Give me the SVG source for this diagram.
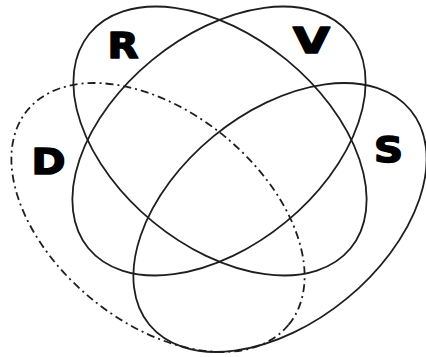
<svg xmlns="http://www.w3.org/2000/svg" width="426" height="357" viewBox="0 0 426 357">
  <style>
    .set { fill: none; stroke: #1e1e1e; stroke-width: 1.8; }
    .dashed { stroke-dasharray: 8 4 2 4; }
    .lbl { font-family: "DejaVu Sans", "Liberation Sans", sans-serif; font-weight: bold; font-size: 36px; fill: #000; stroke: #000; stroke-width: 1.6; stroke-linejoin: round; text-anchor: middle; }
  </style>
  <rect width="426" height="357" fill="#fff"/>
  <g id="set-D">
    <ellipse class="set dashed" cx="158" cy="217.5" rx="169" ry="105" transform="rotate(39.4 158 217.5)"/>
    <text class="lbl" x="48.5" y="174" textLength="34" lengthAdjust="spacingAndGlyphs">D</text>
  </g>
  <g id="set-S">
    <ellipse class="set" cx="280" cy="217.5" rx="169" ry="105" transform="rotate(-39.4 280 217.5)"/>
    <text class="lbl" x="388.5" y="162" textLength="29" lengthAdjust="spacingAndGlyphs">S</text>
  </g>
  <g id="set-R">
    <ellipse class="set" cx="220" cy="141" rx="169" ry="105" transform="rotate(39.4 220 141)"/>
    <text class="lbl" x="123" y="57.5" textLength="31" lengthAdjust="spacingAndGlyphs">R</text>
  </g>
  <g id="set-V">
    <ellipse class="set" cx="219" cy="141" rx="169" ry="105" transform="rotate(-39.4 219 141)"/>
    <text class="lbl" x="311.5" y="52.5" textLength="37" lengthAdjust="spacingAndGlyphs">V</text>
  </g>
</svg>
